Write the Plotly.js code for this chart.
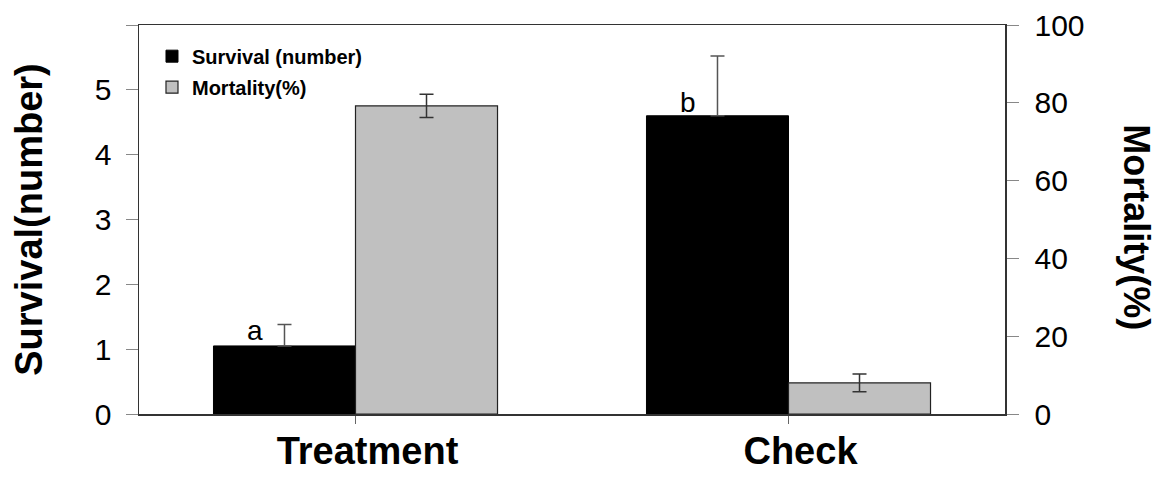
<!DOCTYPE html>
<html>
<head>
<meta charset="utf-8">
<script src="https://cdn.plot.ly/plotly-3.0.1.min.js"></script>
<style>html,body{margin:0;padding:0;background:#fff}#chart{width:1163px;height:477px}</style>
</head>
<body>
<div id="chart"></div>
<script>
var categories = ["Treatment", "Check"];
var catPos = [0, 1];
var survival = [1.05, 4.6];
var survivalErr = [0.33, 0.92];
var mortality = [79.2, 8.0];
var mortalityErr = [3.0, 2.3];
var letters = ["a", "b"];
var letterY = [1.29, 4.8];
var leftTicks = [0, 1, 2, 3, 4, 5, 6];
var leftTickText = ["0", "1", "2", "3", "4", "5", ""];
var rightTicks = [0, 20, 40, 60, 80, 100];

var FONT = "Liberation Sans, Arial";
var barW = 0.328;
var traces = [
  {
    type: "bar", name: "Survival (number)", x: catPos, y: survival,
    width: barW, offset: -barW, yaxis: "y", legendgroup: "g1",
    marker: {color: "#000000", line: {color: "#000000", width: 1}},
    error_y: {type: "data", array: survivalErr, arrayminus: [0, 0], symmetric: false,
      color: "#555555", thickness: 1.5, width: 7}
  },
  {
    type: "bar", name: "Mortality(%)", x: catPos, y: mortality,
    width: barW, offset: 0, yaxis: "y2", legendgroup: "g2",
    marker: {color: "#c0c0c0", line: {color: "#222222", width: 1.2}},
    error_y: {type: "data", array: mortalityErr, color: "#333333", thickness: 1.5, width: 7}
  }
];

var annotations = letters.map(function (t, i) {
  return {x: catPos[i] - 0.232, y: letterY[i], xref: "x", yref: "y", text: t,
    showarrow: false, font: {family: FONT, size: 28, color: "#000"}};
});
annotations.push({
  x: (1137 - 139) / (1005 - 139), y: 0.48, xref: "paper", yref: "paper",
  xanchor: "center", yanchor: "middle",
  text: "<b>Mortality(%)</b>", textangle: 90, showarrow: false,
  font: {family: FONT, size: 36, color: "#000"}
});

var layout = {
  width: 1163, height: 477,
  margin: {l: 139, r: 158, t: 25, b: 63},
  paper_bgcolor: "#ffffff", plot_bgcolor: "#ffffff",
  font: {family: FONT, color: "#000"},
  showlegend: true,
  legend: {x: 0.015, y: 0.97, xanchor: "left", yanchor: "top",
    font: {family: FONT, size: 20, color: "#000", weight: "bold"},
    bgcolor: "rgba(0,0,0,0)", tracegroupgap: 2, itemwidth: 30},
  xaxis: {
    type: "linear", range: [-0.5, 1.5], tickvals: catPos,
    ticktext: categories.map(function (c) { return "<b>" + c + "</b>"; }),
    ticks: "outside", ticklen: 8, tickcolor: "#666666", tickwidth: 1,
    ticklabelshift: 12, ticklabelstandoff: -5,
    showgrid: false, zeroline: false,
    showline: true, linecolor: "#333333", linewidth: 1.5, mirror: true,
    tickfont: {family: FONT, size: 38, color: "#000"}
  },
  yaxis: {
    range: [0, 6], tickvals: leftTicks, ticktext: leftTickText,
    ticks: "outside", ticklen: 12, tickcolor: "#888888", tickwidth: 1,
    ticklabelstandoff: 8,
    showgrid: false, zeroline: false, showline: true, linecolor: "#333333", linewidth: 1.5,
    tickfont: {family: FONT, size: 30, color: "#000"},
    title: {text: "<b>Survival(number)</b>", standoff: 40, font: {family: FONT, size: 38, color: "#000"}}
  },
  yaxis2: {
    overlaying: "y", side: "right", range: [0, 100], tickvals: rightTicks,
    ticks: "outside", ticklen: 12, tickcolor: "#888888", tickwidth: 1,
    ticklabelstandoff: 10,
    showgrid: false, zeroline: false, showline: true, linecolor: "#333333", linewidth: 1.5,
    tickfont: {family: FONT, size: 30, color: "#000"}
  },
  annotations: annotations
};

Plotly.newPlot("chart", traces, layout, {displayModeBar: false, staticPlot: true});
</script>
</body>
</html>
